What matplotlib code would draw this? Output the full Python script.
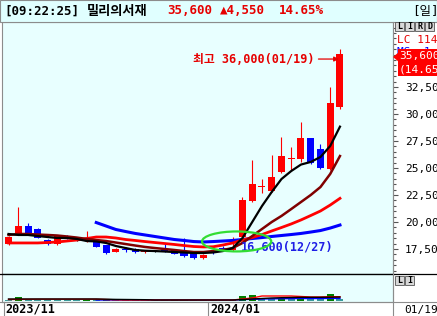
import numpy as np
import matplotlib.pyplot as plt
from matplotlib.patches import Rectangle, Ellipse, Polygon
from matplotlib.transforms import blended_transform_factory

plt.rcParams['font.family'] = ['DejaVu Sans Mono', 'Noto Sans CJK KR', 'DejaVu Sans']

# --- daily candles, 2023/11/29 .. 2024/01/19 ---
opens  = [17950, 18950, 19660, 19380, 18370, 17940, 18700, 18300, 18400, 18200,
          17830, 17230, 17450, 17500, 17250, 17300, 17450, 17410, 17250, 17100,
          16640, 17300, 17600, 17400, 18640, 21970, 23250, 22900, 24600, 25850,
          25800, 27750, 26730, 24880, 30680]
highs  = [18700, 21390, 19880, 19450, 18450, 18750, 18800, 18350, 19190, 18250,
          17900, 17550, 17710, 17550, 17400, 17350, 18000, 17450, 18500, 17200,
          17050, 17400, 17800, 18600, 22340, 25740, 23980, 26200, 27900, 26970,
          29290, 27750, 27200, 32470, 36000]
lows   = [17900, 18900, 18950, 18500, 17900, 17900, 18400, 18200, 18120, 17650,
          17050, 17200, 17240, 17150, 17120, 17250, 17250, 17000, 16800, 16600,
          16600, 17000, 17400, 17300, 18500, 21880, 22690, 22800, 24500, 24820,
          25580, 25370, 24900, 24820, 30440]
closes = [18600, 19660, 18950, 18540, 17940, 18680, 18420, 18300, 18450, 17680,
          17130, 17500, 17400, 17190, 17300, 17300, 17350, 17040, 16850, 16650,
          16950, 17100, 17550, 17600, 22040, 23490, 23300, 24170, 26110, 25900,
          27750, 25490, 24970, 31050, 35600]

# moving averages
ma_black = [18890, 18800, 18800, 18700, 18610, 18520, 18520, 18430, 18240, 18200,
            18060, 17780, 17590, 17410, 17340, 17310, 17270, 17220, 17180, 17130,
            17130, 17180, 17310, 17590, 18520, 20000, 21480, 22780, 23980, 24720,
            25320, 25560, 26020, 27040, 28830]
ma_maroon = [18800, 18890, 18890, 18840, 18800, 18750, 18660, 18560, 18430, 18330,
             18240, 18100, 17960, 17820, 17690, 17590, 17500, 17410, 17310, 17220,
             17220, 17310, 17410, 17590, 18060, 18700, 19350, 20000, 20560, 21200,
             21850, 22500, 23240, 24450, 26110]
ma_red = [18060, 18060, 18060, 18060, 18100, 18150, 18240, 18330, 18470, 18610,
          18610, 18520, 18380, 18290, 18190, 18100, 18010, 17920, 17820, 17730,
          17690, 17710, 17870, 18060, 18330, 18560, 18840, 19170, 19490, 19820,
          20190, 20600, 21020, 21570, 22190]
ma_blue = [np.nan] * 9 + [19950, 19630, 19310, 19120, 18940, 18800, 18660, 18520,
                          18380, 18290, 18190, 18150, 18190, 18240, 18290, 18380,
                          18470, 18560, 18660, 18750, 18840, 18940, 19070, 19210,
                          19440, 19720]

volume = [1.5, 4, 1, 1, 1, 1, 1, 0.8, 1, 0.8, 1, 0.7, 0.7, 0.7, 0.6, 0.6, 0.6, 1,
          1.5, 1, 0.8, 1, 0.8, 1, 5, 6, 2, 2, 3, 2, 2.5, 2, 2, 7, 2]
vma_black = [2, 2, 2, 2, 2, 2, 2, 2, 2, 2, 1.8, 1.6, 1.5, 1.4, 1.3, 1, 1, 1, 1, 1,
             1, 1, 1, 1, 1.5, 2, 2.5, 3, 3.3, 3.5, 3.7, 3.7, 3.7, 3.8, 3.9]
vma_red = [1.5, 1.6, 1.7, 1.8, 1.8, 1.8, 1.8, 1.8, 1.8, 1.8, 1.5, 1.2, 1, 1, 1, 1,
           1, 1, 1, 1, 1, 1, 1, 1, 2, 3, 5, 5, 5, 5, 4.5, 4, 4, 4.3, 4.3]
vma_blue = [np.nan] * 9 + [1.0] * 15 + [1.4, 1.7, 2, 2.2, 2.3, 2.4, 2.5, 2.5, 2.5,
                                        2.6, 2.6]

yticks = [17500, 20000, 22500, 25000, 27500, 30000, 32500]
month_starts = [0, 21]
month_labels = ['2023/11', '2024/01']

W, H = 437, 316
def fx(x):
    return x / W
def fy(y):
    return 1 - y / H

fig = plt.figure(figsize=(W / 100, H / 100), dpi=100, facecolor='white')

bg = '#E8FFFF'
grey = '#8C8C8C'
red = '#FF0000'
blue = '#0000FF'

ax = fig.add_axes([fx(2), fy(274), (393 - 2) / W, (274 - 22) / H], facecolor=bg)
axv = fig.add_axes([fx(2), fy(302), (393 - 2) / W, 28 / H], facecolor=bg)

x = np.arange(len(opens))
for i in x:
    o, h, l, c = opens[i], highs[i], lows[i], closes[i]
    col = red if c > o else (blue if c < o else 'black')
    ax.vlines(i, l, h, color=col, lw=0.8, zorder=2)
    body = max(abs(c - o), 90)
    ax.bar(i, body, bottom=min(o, c) - (body - abs(c - o)) / 2, width=0.72,
           color=col, zorder=2)

ax.plot(x, ma_blue, color=blue, lw=2.2, zorder=3)
ax.plot(x, ma_red, color=red, lw=2.0, zorder=3)
ax.plot(x, ma_maroon, color='#800000', lw=1.8, zorder=3)
ax.plot(x, ma_black, color='black', lw=1.6, zorder=4)

ax.set_xlim(-0.67, 39.44)
ax.set_ylim(15185, 38520)
ax.set_xticks([])
ax.yaxis.tick_right()
ax.set_yticks(yticks)
ax.set_yticks(np.arange(15500, 38500, 500), minor=True)
ax.set_yticklabels([f'{v:,}' for v in yticks], fontsize=8)
ax.tick_params(axis='y', which='major', length=3.5, width=0.8, color='#555555', pad=5)
ax.tick_params(axis='y', which='minor', length=1.8, width=0.8, color='#555555')
for s in ['left', 'right', 'top']:
    ax.spines[s].set_color(grey)
ax.spines['bottom'].set_color('black')

# low marker
ell = Ellipse((23.4, 18200), 7.1, 1850, fill=False, edgecolor='#33DD33', lw=1.6, zorder=6)
ax.add_patch(ell)
ax.text(23.8, 17600, '16,600(12/27)', color='#1E1EE6', fontsize=8.5,
        va='center', ha='left', fontweight='bold', zorder=5)

# high marker
ax.annotate('최고 36,000(01/19)', xy=(33.9, 35090), xytext=(18.9, 35090),
            color='#E60000', fontsize=8.5, va='center', ha='left', fontweight='bold',
            arrowprops=dict(arrowstyle='-|>', color='#E60000', lw=0.9,
                            mutation_scale=7, shrinkA=1, shrinkB=0))

# volume panel
vcols = ['#008000' if i > 0 and volume[i] > volume[i - 1] else '#3A9A9A' for i in x]
axv.bar(x, volume, width=0.72, color=vcols, zorder=2)
axv.plot(x, vma_blue, color=blue, lw=1.0, zorder=3)
axv.plot(x, vma_red, color=red, lw=1.0, zorder=3)
axv.plot(x, vma_black, color='black', lw=1.0, zorder=3)
axv.set_xlim(-0.67, 39.44)
axv.set_ylim(-1, 27)
axv.set_xticks([])
axv.set_yticks([])
for s in ['left', 'right', 'bottom']:
    axv.spines[s].set_color(grey)
axv.spines['top'].set_color('black')

# date row
tr = blended_transform_factory(axv.transData, fig.transFigure)
for m, lab in zip(month_starts, month_labels):
    axv.plot([m - 0.5, m - 0.5], [fy(302), fy(316)], color=grey, lw=0.8,
             transform=tr, clip_on=False)
    axv.text(m - 0.3, fy(309.5), lab, transform=tr, fontsize=8.5, fontweight='bold',
             va='center', ha='left')
fig.text(fx(404), fy(309.5), '01/19', fontsize=8, va='center', ha='left')

# separators across the full width
fig.add_artist(plt.Line2D([0, 1], [fy(274), fy(274)], color='black', lw=0.9))
fig.add_artist(plt.Line2D([0, 1], [fy(302), fy(302)], color=grey, lw=0.8))
fig.add_artist(plt.Line2D([fx(393), fx(393)], [0, fy(22)], color=grey, lw=0.8))

# header
fig.add_artist(Rectangle((0, fy(22)), 1, 22 / H, transform=fig.transFigure,
                         facecolor='#E0FFFF', edgecolor=grey, lw=0.8))
hy = fy(11)
fig.text(fx(4), hy, '[09:22:25]', fontsize=9, fontweight='bold', va='center')
fig.text(fx(87), hy, '밀리의서재', fontsize=9.5, fontweight='bold', va='center',
         family=['Noto Sans CJK KR'])
fig.text(fx(167), hy, '35,600', fontsize=9, fontweight='bold', va='center', color='#E60000')
fig.text(fx(220), hy, '▲4,550', fontsize=9, fontweight='bold', va='center', color='#E60000',
         family=['DejaVu Sans Mono', 'DejaVu Sans'])
fig.text(fx(279), hy, '14.65%', fontsize=9, fontweight='bold', va='center', color='#E60000')
fig.text(fx(412), hy, '[일]', fontsize=9, va='center',
         family=['DejaVu Sans Mono', 'Noto Sans CJK KR'])

# right side buttons
def button(x0, y0, w, h, s):
    fig.add_artist(Rectangle((fx(x0), fy(y0 + h)), w / W, h / H, transform=fig.transFigure,
                             facecolor='#D8D8D8', edgecolor='#555555', lw=0.6))
    fig.text(fx(x0 + w / 2), fy(y0 + h / 2), s, fontsize=6, fontweight='bold',
             ha='center', va='center')

for k, s in enumerate('LIRD'):
    button(395 + 10 * k, 22, 9, 9, s)
for k, s in enumerate('LI'):
    button(395 + 10 * k, 276, 9, 9, s)

fig.text(fx(397), fy(40), 'LC 114', fontsize=8, color='#E60000', va='center')
fig.text(fx(397), fy(52), 'MS  1', fontsize=8, color=blue, va='center', zorder=2)
fig.add_artist(Rectangle((fx(398), fy(76)), 40 / W, 27 / H, transform=fig.transFigure,
                         facecolor=red, edgecolor='none', zorder=5))
fig.text(fx(399), fy(56), '35,600', fontsize=8, color='white', va='center', zorder=6)
fig.text(fx(399), fy(69), '(14.65%)', fontsize=8, color='white', va='center', zorder=6)
fig.add_artist(Polygon([[fx(393), fy(57)], [fx(399), fy(52)], [fx(399), fy(62)]],
                       closed=True, transform=fig.transFigure, facecolor=red,
                       edgecolor='none', zorder=5))

fig.savefig('out.png', dpi=100)
